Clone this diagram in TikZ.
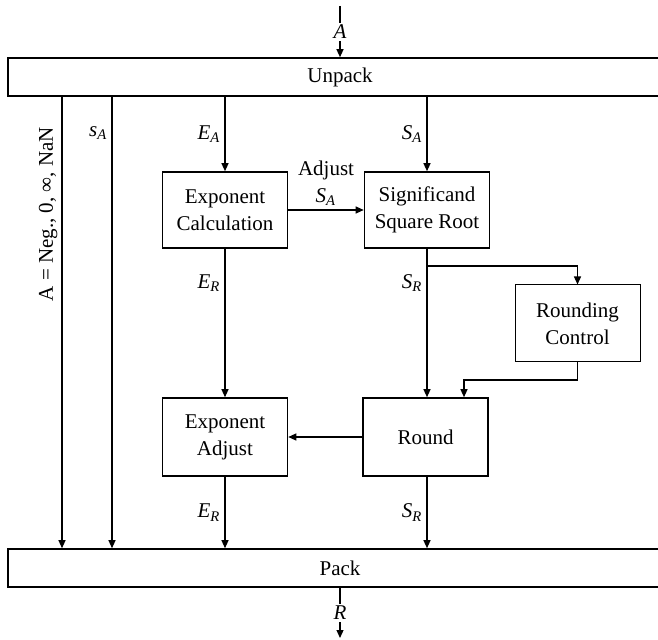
\documentclass[tikz,border=0pt]{standalone}
\usepackage{fontspec}
\setmainfont{Liberation Serif}
\usetikzlibrary{arrows.meta}
\newcommand{\sym}[2]{\textit{#1}\textsubscript{\textit{#2}}}
\tikzset{
  blk/.style={
    draw,
    line width=0.8pt,
    align=center,
    minimum width=62.5pt,
    minimum height=38pt,
    inner sep=1pt
  },
  bar/.style={
    draw,
    line width=0.8pt,
    minimum width=332pt,
    minimum height=19pt
  },
  arr/.style={
    line width=0.6pt,
    -{Triangle[length=4pt,width=3.5pt]}
  },
  lbl/.style={
    inner sep=2pt
  },
  every picture/.style={
    font=\fontsize{10.5}{13.5}\selectfont
  }
}

\begin{document}
\begin{tikzpicture}[x=0.5pt,y=-0.5pt]
  \useasboundingbox (0,0) rectangle (658,640);
  % bars
  \node[bar] (unpack) at (340,77) {Unpack};
  \node[bar] (pack) at (340,568) {Pack};
  % blocks
  \node[blk] (ecalc) at (225,210) {Exponent\\Calculation};
  \node[blk] (sqrt) at (427,210) {Significand\\Square Root};
  \node[blk,line width=0.5pt,minimum height=38.5pt] (rctl) at (577.5,323.5) {Rounding\\Control};
  \node[blk,minimum height=39pt] (eadj) at (225,437) {Exponent\\Adjust};
  \node[blk,minimum height=39pt] (round) at (425.5,437) {Round};
  % points
  \coordinate (ain) at (340,6);
  \coordinate (rout) at (340,638);
  \coordinate (exc) at (62,0);
  \coordinate (sgn) at (112,0);
  \coordinate (br) at (427,266);
  \coordinate (rin) at (464,380);
  % input and output
  \draw[arr] (ain) -- node[fill=white,inner sep=1pt,pos=0.5]{\textit{A}} (unpack);
  \draw[arr] (pack) -- node[fill=white,inner sep=1pt,pos=0.5]{\textit{R}} (rout);
  % bypass paths
  \draw[arr] (unpack.south -| exc) -- node[pos=0.26,rotate=90,above,lbl]{A = Neg., 0, ∞, NaN} (pack.north -| exc);
  \draw[arr] (unpack.south -| sgn) -- node[pos=0.08,left,lbl]{\textit{s}\textsubscript{\textit{A}}} (pack.north -| sgn);
  % exponent path
  \draw[arr] (unpack.south -| ecalc) -- node[left,lbl]{\sym{E}{A}} (ecalc);
  \draw[arr] (ecalc) -- node[pos=0.23,left,lbl]{\sym{E}{R}} (eadj);
  \draw[arr] (eadj) -- node[left,lbl]{\sym{E}{R}} (pack.north -| eadj);
  % significand path
  \draw[arr] (unpack.south -| sqrt) -- node[left,lbl]{\sym{S}{A}} (sqrt);
  \draw[arr] (ecalc) -- node[above,align=center,lbl]{Adjust\\\sym{S}{A}} (sqrt);
  \draw[arr] (sqrt) -- node[pos=0.23,left,lbl]{\sym{S}{R}} (round.north -| sqrt);
  \draw[arr] (br) -| (rctl);
  \draw[arr] (rctl) |- (rin) -- (rin |- round.north);
  \draw[arr] (round) -- (eadj);
  \draw[arr] (round.south -| sqrt) -- node[left,lbl]{\sym{S}{R}} (pack.north -| sqrt);
\end{tikzpicture}
\end{document}
